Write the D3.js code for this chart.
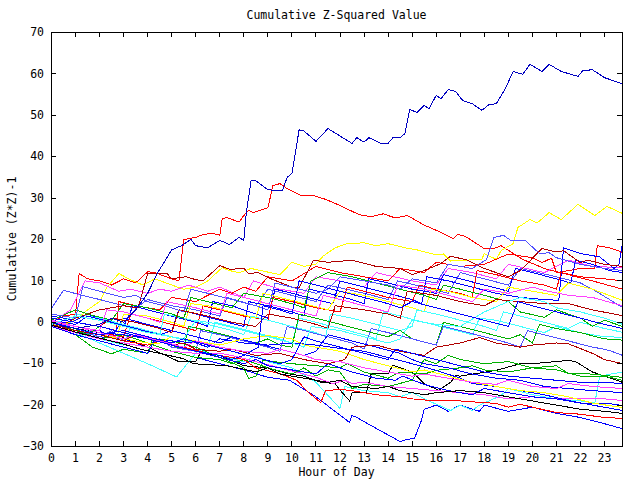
<!DOCTYPE html>
<html>
<head>
<meta charset="utf-8">
<script src="https://cdn.jsdelivr.net/npm/d3@7"></script>
<style>
  html, body { margin: 0; padding: 0; background: #fff; }
  svg { display: block; }
  text { font-family: "DejaVu Sans Mono", "Liberation Mono", monospace; font-size: 11.5px; fill: #000; }
</style>
</head>
<body>
<svg id="chart" width="640" height="480"></svg>
<script>
// ---------------- data (hour of day, cumulative (Z*Z)-1) ----------------
const chartTitle = "Cumulative Z-Squared Value";
const xTitle = "Hour of Day";
const yTitle = "Cumulative (Z*Z)-1";
const xTickValues = [0,1,2,3,4,5,6,7,8,9,10,11,12,13,14,15,16,17,18,19,20,21,22,23];
const yTickValues = [-30,-20,-10,0,10,20,30,40,50,60,70];

const s01 = [[0,0],[0.5,-1],[1,-1.5],[2,-0.5],[2.5,1],[3,0],[3.5,3],[4,7],[4.4,11.8],[5,17.5],[5.4,18.5],[5.8,20],[6,18.5],[6.5,18],[7,19.8],[7.4,18.8],[7.8,20.5],[8,19.8],[8.1,26.3],[8.3,34.2],[8.5,34.2],[9,32],[9.6,31.8],[9.8,35],[10,36],[10.3,46.5],[10.5,46.2],[11,43.7],[11.5,46.8],[12.5,43.2],[12.7,44.6],[13,43.5],[13.2,44.6],[13.7,43.2],[14,43.2],[14.2,44.6],[14.5,44.6],[14.7,45.6],[14.9,51.4],[15.2,50.7],[15.5,52.4],[15.7,51.6],[16,54.8],[16.2,54],[16.5,56.2],[16.8,55.8],[17.1,53.6],[17.5,52.8],[17.9,51.2],[18.2,52.6],[18.5,52.8],[18.9,56.7],[19.2,60.6],[19.6,59.9],[19.9,62.3],[20.4,60.6],[20.7,62.3],[21.2,60.6],[21.9,59.4],[22.1,60.8],[22.5,61],[23,59.1],[23.75,57.6]];
const s02 = [[0,0],[0.5,1.5],[1,2],[1.15,11.8],[1.5,10.5],[2,10],[2.5,9],[3,10.5],[3.5,9.5],[4,12.2],[4.3,12],[5,10.5],[5.3,10],[5.5,20],[6,20.5],[6.3,21.2],[6.7,21.5],[7,21],[7.1,25],[7.3,25.3],[7.8,24.2],[8,25.8],[8.2,27],[8.4,26.5],[9,27.7],[9.1,30.2],[9.2,33],[9.5,33.5],[9.8,32.3],[10.4,30.6],[10.9,30.6],[11.4,29.7],[12,28.2],[12.8,26],[13.3,25.5],[13.8,26.2],[14.3,25.2],[14.8,25.8],[15.5,23.5],[16.2,21.7],[16.7,20.2],[16.9,21.2],[17.2,20.8],[18,17.8],[18.4,17.8],[18.7,18.5],[19.6,15.2],[20.5,13],[21.5,11.5],[22.5,10],[23.75,8]];
const s03 = [[0,0],[0.5,-0.5],[1,0.5],[1.5,3],[2,5],[2.3,8.4],[2.8,11.8],[3.2,10.5],[3.8,9],[4.3,10.5],[5,9],[5.5,8],[6,8.5],[6.5,10],[7.1,13.2],[7.4,12.5],[7.8,12],[8.3,13],[8.7,12.5],[9.5,11.5],[10,14.5],[10.5,13.5],[11,14],[11.3,16],[11.8,18],[12.3,19],[13,19.2],[13.5,18.5],[14,19],[14.7,18],[15.2,17.5],[16,16.3],[16.3,16.5],[16.6,14.8],[17.2,15],[17.9,15.2],[18,16.6],[18.5,15.2],[18.7,17.3],[19.2,19],[19.4,22.9],[19.9,24.8],[20.2,24],[20.7,26.5],[21.2,24.8],[21.9,28.5],[22.6,25.8],[23.1,28],[23.75,26.3]];
const s04 = [[0,-0.5],[1,-2],[2,-3.5],[3,-4],[4,-6],[5,-7],[6,-8.5],[7,-10],[8,-11.5],[9,-13.3],[9.9,-14],[11,-18],[12.4,-24.2],[12.5,-22.5],[12.7,-23],[13,-24],[14.5,-28.8],[14.8,-28.3],[15.1,-28],[15.4,-23.5],[15.5,-21],[16,-20],[16.5,-21.5],[17,-20],[17.8,-21.5],[18,-20],[19,-21.5],[20,-20.5],[21,-22],[22,-23],[23,-24.5],[23.75,-25.7]];
const s05 = [[0,0],[1,-2.5],[2,-5],[3,-7.5],[4,-10],[5.2,-13.2],[6.1,-6.8],[7,-8],[8,-9.5],[8.5,-8],[9,-9.5],[10,-11],[11,-14.5],[12,-20.8],[12.2,-15.5],[13,-16.5],[14,-17],[14.5,-18],[15,-17],[15.7,-19],[16.6,-21.3],[17,-20],[17.5,-21.3],[17.8,-20],[18.7,-17.7],[19,-16],[20,-17.5],[21,-18.5],[22,-19],[22.6,-19.5],[22.8,-13],[23.75,-12]];
const s06 = [[0,0],[1,-1.5],[2,-2.5],[2.9,-3.5],[4,-6],[5.3,-9.5],[6,-9.5],[6.2,-7.3],[7,-8],[8,-10.5],[9,-11],[9.8,-12.4],[10.5,-13],[11.2,-14.5],[11.8,-14.8],[12,-16.4],[12.4,-19],[12.5,-17],[13.1,-17],[13.3,-12.4],[14,-12.4],[14.2,-10.4],[15,-12],[15.5,-14.8],[16.1,-16.4],[16.6,-14.5],[16.8,-12.9],[17,-13],[18.5,-11.6],[19.5,-10],[20,-10],[21.5,-9.2],[21.8,-9.5],[22.5,-12],[23,-13],[23.75,-14.5]];
const s07 = [[0,3.4],[0.5,7.7],[1.3,6.5],[2,5.5],[3,4],[3.5,3.4],[4,5.5],[5,4],[6,3],[7,1.5],[7.3,6],[8.5,4],[9,8],[10,6.5],[11,5],[11.5,9],[13,7],[14,5.5],[14.4,10],[15.5,8.5],[16.5,7],[17,12],[18,10.5],[19,9],[19.5,13],[21,11],[22,9.5],[22.5,8],[23.75,3.6]];
const s08 = [[0,0],[0.8,3],[1.4,10],[2,9.5],[2.8,7.5],[3.3,8],[4,7],[4.5,8],[5,7.5],[5.7,9],[6.5,7.5],[7,8.5],[8,6],[8.4,10],[9.5,8],[10.5,7],[11,11],[12,10],[13,8.5],[13.5,12],[15,10],[16,9],[16.5,13],[17.5,12],[18.5,10.5],[19,14],[20.5,12],[21.5,15],[22.5,13.5],[23.75,13.2]];
const s09 = [[0,1],[1,0],[2,-1],[2.7,-2],[2.8,5],[3.5,4],[4.5,3],[5,6],[6,5],[7,8],[7.5,7],[8,8.5],[8.5,7.5],[9,11],[10,10],[11,13.5],[12,12],[13,11],[14,10],[14.5,13],[15.5,12],[16,14.5],[17,13.5],[18,14],[19,16.5],[20,15.6],[20.4,14.4],[20.8,15.5],[21,12],[22,13],[22.6,13],[22.7,18.5],[23.2,18],[23.75,16.9]];
const s10 = [[0,1.5],[1,0.5],[1.5,2],[2,1],[3,-1],[3.4,4],[4,3],[5,1.5],[6,0],[6.5,-1],[6.7,5],[7.5,4],[8.5,2],[9,1],[9.3,8],[10,7],[11,5.5],[11.7,4.5],[12,10],[13,8.5],[14,7],[15,5.5],[15.4,4.5],[15.6,11],[16.5,10],[17.5,8.5],[18.5,7],[19.5,6],[20.5,5.5],[21.1,5.3],[21.3,18],[22,16.6],[22.8,15.8],[23.4,13],[23.6,14],[23.75,19]];
const s11 = [[0,-1],[1,-2.5],[2,-2],[2.5,-3.5],[3,1],[4,-0.5],[5,-2],[5.3,3],[6,2],[7,0.5],[8,-1],[8.2,5],[9,4],[10,2.5],[10.5,1.5],[10.7,8],[11.5,7],[12.5,5.5],[13,4.5],[13.2,10.5],[14,9.5],[15,8],[16,7],[16.3,11.5],[17,10.5],[18,9],[19,7.5],[19.3,13],[20,12],[21,10.5],[21.6,9.5],[21.8,15],[22.5,14],[23.2,12.5],[23.75,12]];
const s12 = [[0,0.5],[1,-1],[2,-2.5],[3,-3.5],[3.3,2],[4,1],[5,-0.5],[6,-2],[6.3,4],[7,3],[8,1.5],[9,0.5],[9.2,6],[10,5],[11,3.5],[12,2.5],[12.3,8.5],[13,7.5],[14,6],[15,5],[15.3,9],[16,8],[17,7],[17.5,6],[17.7,12.5],[18.5,11.5],[19.5,10],[20.5,9],[21,8],[21.2,12],[22,11],[23,10.5],[23.75,10]];
const s13 = [[0,-1],[1,-2],[2,-3],[2.7,-4],[3,2],[4,1.5],[5,0],[5.5,-1],[5.8,4.5],[6.5,4],[7.5,2.5],[8.5,1],[8.8,7],[9.5,6],[10.5,4.5],[11.5,3],[12,7.5],[13,6.5],[14,5],[15,3.5],[15.5,2.5],[15.8,8],[16.5,7.5],[17.5,6],[18.5,5],[19,8.5],[20,7.5],[21,6.5],[21.5,9.5],[22.5,8],[23.2,6.5],[23.75,5.3]];
const s14 = [[0,0.5],[0.7,-1],[1,2],[2,1],[3,-0.5],[4,-2],[4.5,-3],[4.7,2],[5.5,1],[6.5,-0.5],[7.5,-2],[8,-3],[8.3,1.5],[9,0.5],[10,-1],[11,-2.5],[11.4,-3.5],[11.6,2],[12.5,1],[13.5,-0.5],[14.5,-2],[15,-1],[15.2,3],[16,2],[17,0.5],[18,-1],[18.5,-2],[18.8,2.5],[19.5,1.5],[20.5,0],[21.5,-1.5],[22,0],[23,-1.5],[23.75,-2.4]];
const s15 = [[0,-1],[1,-3],[1.5,-2],[2,-4],[3,-5.5],[3.3,-1],[4,-2],[5,-3.5],[6,-5],[6.5,-6],[6.8,0],[7.5,-1],[8.5,-2.5],[9.5,-4],[10,-5],[10.3,1],[11,0],[12,-1.5],[13,-3],[13.5,-4],[13.8,2.5],[14.5,1.5],[15.5,0],[16.5,-1.5],[17.5,-3],[17.8,1],[18.5,0.5],[19.5,-1],[20.5,-2.5],[21,-1],[22,-2.5],[23,-3.5],[23.75,-3.6]];
const s16 = [[0,0],[1,-1.5],[1.5,-3],[2,-1],[3,-2.5],[4,-4],[5,-5.5],[5.5,-6.5],[5.7,-1],[6.5,-2],[7.5,-3.5],[8.5,-5],[9,-4],[9.5,-5.5],[10,-6],[10.3,2],[11,1],[12,-0.5],[13,-2],[14,-3.5],[14.5,-2],[15,-4],[16,-5.5],[16.3,0],[17,-1],[18,-2.5],[19,-4],[19.5,-3],[20,-5],[20.3,-0.5],[21,-1.5],[22,-2.5],[23,-4],[23.75,-4.3]];
const s17 = [[0,0.5],[1,3],[1.5,2],[2.5,0.5],[3,4.5],[4,3.5],[5,2],[5.5,1],[5.8,6],[6.5,5],[7.5,3.5],[8,7],[9,6],[10,4.5],[10.5,3.5],[10.8,10],[11.5,12],[12.5,11],[13.5,9.5],[14.5,8],[15.5,6.5],[16,5.5],[16.3,9],[17,8],[18,6.5],[19,5],[19.5,2.5],[20.5,1.2],[21,3],[22,1],[22.5,-1],[23,0.5],[23.75,-1]];
const s18 = [[0,-0.5],[1,-2],[2,-3.5],[2.5,-2],[3,-4.5],[4,-5.5],[4.5,-4],[5,-6],[6,-7],[6.2,-2],[7,-3],[8,-4.5],[9,-6],[9.5,-7],[9.8,-1],[10.5,-2],[11.5,-3.5],[12.5,-5],[13,-6.5],[13.3,-1.5],[14,-2.5],[15,-4],[16,-5.5],[16.3,-1],[17,-2],[18,-3.5],[19,-5],[19.5,-6],[19.8,-2],[20.5,-3],[21.5,-4.5],[22.5,-6],[23,-6.5],[23.3,-7],[23.75,-8]];
const s19 = [[0,-1],[1,-3],[1.7,-6],[2.5,-7.6],[3,-6.5],[4,-7.5],[4.2,-3.9],[5,-4.5],[6,-6],[7,-8.5],[8,-11],[8.2,-13.6],[8.5,-13],[8.8,-9.2],[10,-10],[11,-10.5],[12,-11],[12.3,-10],[13,-12],[14,-13.5],[14.5,-12],[15.5,-12.5],[16,-11.6],[17,-11],[17.5,-10.5],[18,-11.5],[19,-12],[20,-11],[21,-10.5],[21.5,-12.4],[22.5,-12.5],[23.75,-13.3]];
const s20 = [[0,0],[1,-2],[2,-4],[3,-3],[4,-5],[5,-7],[6,-8.5],[7,-9],[7.5,-10],[8,-9],[9,-11],[10,-12.5],[10.5,-11],[11,-13],[11.5,-11.5],[12,-12],[12.5,-16],[13,-15],[14,-15.5],[15,-14],[15.5,-9],[16,-10],[16.5,-8],[17,-9],[18,-10],[19,-9.5],[20,-11],[21,-11.5],[22,-13],[23,-13],[23.75,-14]];
const s21 = [[0,-1],[1,-2.5],[2,-4],[3,-5],[4,-6],[5,-7],[6,-7.5],[7,-7.5],[7.5,-8],[8.5,-9.5],[9.5,-11],[10.5,-12.5],[11,-13.3],[11.7,-14.8],[12.2,-14],[12.5,-14.8],[13,-14.5],[14,-15.5],[15,-16],[16,-16.5],[17,-17],[18,-17.5],[19,-18.5],[20,-18],[21,-18.5],[22,-18.5],[23,-18.5],[23.75,-18.9]];
const s22 = [[0,0],[1,-1],[2,-2.5],[3,-3],[4,-4],[5,-4.5],[6,-5],[6.5,-6],[7,-4],[8,-5],[9,-5.5],[10,-5],[11,-5.5],[12,-6.3],[13,-7],[14,-8.5],[15,-10],[16,-11.6],[17,-13.5],[17.5,-14.8],[18.5,-15.5],[19.5,-16.5],[20.5,-17.5],[21.5,-18.9],[22.5,-20],[23.75,-21.3]];
const s23 = [[0,0.5],[1,-0.5],[1.5,1.5],[2.5,0],[3.5,-1.5],[4.5,-3],[5,-2],[6,-3.5],[7,-5],[7.5,-3.5],[8.5,-5],[9.5,-6.5],[10.5,-8],[11,-7],[11.5,-3],[12.5,-4.5],[13.5,-6],[14.5,-7.5],[15,-9],[15.5,-10],[16.5,-11],[17.5,-12.5],[18.5,-13.5],[19.5,-14],[20.5,-15.5],[21.5,-16],[22.5,-16.5],[23.75,-17]];
const s24 = [[0,-1],[1,-3],[2,-4.5],[3,-6],[4,-7.5],[4.3,-4],[5,-5.5],[6,-7],[7,-8.5],[8,-10],[8.5,-9],[9,-10.5],[10,-11.5],[11,-12.5],[11.5,-10],[12.5,-12],[13.5,-13.5],[14.3,-14],[14.6,-13],[15.5,-15],[16.5,-16.5],[17.5,-17.5],[18,-16],[19,-17],[20,-18],[21,-18.5],[22,-19.5],[23,-19.5],[23.75,-20.1]];
const s25 = [[0,0],[1,-1.5],[2,-3],[3,-4.5],[4,-5.5],[4.5,-4.5],[5.5,-6],[6.5,-7.5],[7.5,-8.5],[8,-9],[8.5,-11],[9.5,-12.4],[10.2,-14],[10.7,-17],[11.2,-19.4],[11.4,-16.5],[12,-16.2],[12.5,-16.5],[13.5,-17.5],[14.5,-18],[15,-18.5],[16,-19],[17,-19],[18.5,-19.6],[19,-20.5],[19.5,-19.8],[20,-20.5],[21,-21.8],[22,-22.2],[23,-23],[23.75,-23.2]];
const s26 = [[0,-0.5],[1,-1.5],[2,-3],[3,-4],[4,-5],[4.5,-5],[5,-3.5],[6,-4.5],[7,-5.5],[8,-4],[9,-3.2],[10,-4],[10.5,-5.5],[11,-6],[12,-7],[13,-9],[14,-10.5],[15,-12],[15.5,-11.5],[16.5,-13],[17.5,-14.5],[18.5,-15.5],[19.5,-16.5],[20.5,-17],[21.5,-18],[22.5,-19.5],[23.75,-20.6]];
const s27 = [[0,0.5],[0.5,-0.5],[1,1],[2,3],[3,4],[3.6,3.5],[4,11.8],[4.8,11.8],[5,10.5],[5.6,11],[6,10.3],[6.3,10],[7,13.7],[7.4,12.8],[8,13],[8.2,11.8],[8.6,12],[9,10.8],[10,8.5],[10.3,8.4],[10.9,15],[11.5,14.5],[12.5,15],[13.5,13.5],[14.5,13],[15,11.5],[15.5,12.5],[16.2,14.2],[16.6,16],[17.3,15],[18,13],[19,11],[19.5,12.5],[20.4,17.8],[21,17],[21.3,17.3],[22,14.4],[22.3,15],[23,14],[23.75,13.5]];
const s28 = [[0,-0.5],[1,-2],[2,-3],[3,-4.5],[3.5,-3],[4.5,-4.5],[5,-5.5],[5.5,-5],[6,-6.5],[7,-7],[7.5,-6.5],[8.5,-8],[9.5,-7.5],[10.5,-9],[11.5,-10],[12.2,-9],[12.5,-6],[13.5,-5.5],[14.5,-7],[15.5,-8],[16,-6],[17,-5],[17.8,-3.7],[18.5,-5],[19.5,-6],[20,-5.5],[21,-5],[21.5,-5.2],[22.5,-7.5],[23,-9],[23.75,-10]];
const s29 = [[0,1],[1,0],[2,-1],[2.5,1],[3.5,0],[4.5,-1.5],[5,-2.5],[5.3,3],[6.5,1.5],[7.5,0],[8.5,-1],[9,2],[10,1],[11,-0.5],[11.5,-1.5],[11.8,4],[13,3],[14,2],[14.5,1],[14.8,7.5],[16,6.5],[17,5],[18,4],[18.5,5.5],[19.5,5],[20.5,4.5],[21.5,4.5],[22.5,3],[23.75,1.6]];
const s30 = [[0,-0.7],[1.2,-2.7],[2.9,-5.1],[3.7,-6.5],[4.5,-7.5],[5.5,-8.8],[5.9,-10],[7.3,-10.5],[7.9,-11.2],[8.5,-12],[9,-11],[9.5,-12.5],[10.5,-13.5],[11.5,-14.5],[12,-14],[12.5,-15.5],[13.5,-16],[14,-15.5],[14.5,-16.5],[15.5,-17.5],[16,-17],[17,-16.5],[18,-17],[19,-18],[20,-19],[21,-20],[22,-21],[23,-21.5],[23.75,-22]];
const s31 = [[0,2],[1,1],[1.3,8.6],[2,7.5],[3,6],[3.5,6.5],[4,5],[5,3.5],[5.5,2.5],[5.8,8],[6.5,7],[7.5,5.5],[8.5,4],[9,3],[9.3,9.5],[10,8.5],[11,7],[11.5,8],[12,11],[13,10],[14,9],[14.5,8],[15,10.5],[16,9.5],[16.5,14],[17.5,13],[18.1,15.2],[18.4,20.5],[18.8,21],[19.1,19.8],[19.7,19.8],[20.3,16.6],[20.7,16.8],[21,15.6],[22,14],[23,13],[23.75,12.5]];
const s32 = [[0,0],[1,-1],[2,-2],[2.3,3],[3,2.5],[4,1],[4.5,0],[4.8,5],[6,3.5],[7,2],[7.3,7],[8,6],[9,4.5],[10,3],[11,1.5],[11.3,6.5],[12,5.5],[13,4],[14,2.5],[14.4,9],[15.5,8],[16.5,6.5],[17.5,5],[18,8],[19,7],[20,8.5],[20.5,7.7],[21.5,6.5],[22.5,6],[23.75,4]];
const s33 = [[0,0.5],[1,-1],[2,-2.5],[3,-4],[3.5,-3],[4.5,-4.5],[5.5,-6],[6,-4.5],[7,-6],[8,-7],[9,-7.5],[9.5,-6.5],[10.5,-8],[11,-9],[12,-9.5],[13,-11],[14,-12],[15,-13],[15.5,-12.5],[16.5,-13.5],[17.5,-14.5],[18.5,-15],[19,-14],[20,-15.5],[21,-16],[21.5,-14.8],[22.5,-15.5],[23.75,-16]];
const s34 = [[0,-0.5],[1,1.5],[2,0.5],[3,-1],[4,-2.5],[5,-3.5],[5.5,-4],[6,0.5],[7,-0.5],[8,-2],[9,-3.5],[10,-5],[10.5,-6],[10.8,-1],[12,-2],[13,-3.5],[14,-5],[14.5,-4],[15,0.5],[16,-0.5],[17,-1],[18,2.5],[19,5],[19.5,6],[20.5,5],[21,3.5],[22,2.5],[23,1],[23.75,-0.5]];
const s35 = [[0,0],[1,-1.5],[2,-3],[3,-2],[4,-3.5],[5,-5],[5.5,-4],[6.5,-5.5],[7.5,-7],[8.5,-8.5],[9.5,-10],[10,-9],[10.5,-3.5],[11,-4.5],[12,-6],[13,-7.5],[14,-9],[14.3,-6.5],[15,-7.5],[16,-9],[17,-10.5],[18,-12],[19,-13],[20,-13.5],[21,-14],[22,-14.5],[23,-14.5],[23.75,-14.8]];
const s36 = [[0,1],[1,0],[2,-1],[3,-2.5],[4,-4],[5,-5.5],[6,-7],[7,-8],[7.5,-9],[8,-8],[8.6,-6],[8.8,4],[9.5,3],[10,2],[10.3,10],[11,9],[12,7.5],[13,6],[14,4.5],[14.5,3.5],[15,5],[16,3.5],[17,2],[18,0.5],[19,-1],[19.4,5],[20,4],[21,2.5],[22,1],[23,-0.5],[23.75,-1.5]];

const seriesList = [s02,s03,s04,s05,s06,s07,s08,s09,s10,s11,s12,s13,s14,s15,s16,s17,s18,s19,s20,s21,s22,s23,s24,s25,s26,s27,s28,s29,s30,s31,s32,s33,s34,s35,s36,s01];

// ---------------- styles ----------------
const C = {red:"#ff0000", green:"#00b000", blue:"#0000ff", magenta:"#ff40ff", cyan:"#40ffff",
           darkred:"#b00000", yellow:"#ffff00", black:"#000000", lightblue:"#5050ff", navy:"#0000c0"};
const seriesColors = [C.red,C.yellow,C.blue,C.cyan,C.black,C.lightblue,C.magenta,C.red,C.blue,C.blue,
  C.red,C.yellow,C.cyan,C.cyan,C.green,C.green,C.lightblue,C.green,C.green,C.magenta,
  C.blue,C.blue,C.blue,C.red,C.yellow,C.darkred,C.darkred,C.darkred,C.black,C.lightblue,
  C.magenta,C.magenta,C.cyan,C.blue,C.blue,C.navy];

const L = 51, R = 622, T = 32, B = 446;
const svg = d3.select("#chart");
const x = d3.scaleLinear().domain([0, 23.75]).range([L, R]);
const y = d3.scaleLinear().domain([-30, 70]).range([B, T]);

svg.append("defs").append("clipPath").attr("id","plotclip")
  .append("rect").attr("x", L).attr("y", T).attr("width", R - L + 1).attr("height", B - T + 1);

const line = d3.line().x(d => x(d[0]) + 0.5).y(d => y(d[1]) + 0.5);
const g = svg.append("g").attr("clip-path", "url(#plotclip)");
seriesList.forEach((s, i) => {
  g.append("path").attr("d", line(s)).attr("fill","none")
   .attr("stroke", seriesColors[i]).attr("stroke-width", 1)
   .attr("shape-rendering","crispEdges");
});

// axes with inward ticks
const tick = 5;
const ax = svg.append("g").attr("transform", `translate(0,${B})`)
  .call(d3.axisBottom(x).tickValues(xTickValues).tickFormat(d3.format("d")).tickSizeInner(-tick).tickSizeOuter(0).tickPadding(8));
const axT = svg.append("g").attr("transform", `translate(0,${T})`)
  .call(d3.axisTop(x).tickValues(xTickValues).tickFormat("").tickSizeInner(-tick).tickSizeOuter(0));
const ay = svg.append("g").attr("transform", `translate(${L},0)`)
  .call(d3.axisLeft(y).tickValues(yTickValues).tickFormat(d3.format("d")).tickSizeInner(-tick).tickSizeOuter(0).tickPadding(7));
const ayR = svg.append("g").attr("transform", `translate(${R},0)`)
  .call(d3.axisRight(y).tickValues(yTickValues).tickFormat("").tickSizeInner(-tick).tickSizeOuter(0));
[ax, axT, ay, ayR].forEach(a => {
  a.select(".domain").remove();
  a.selectAll("line").attr("stroke", "#000").attr("shape-rendering","crispEdges");
  a.selectAll("text").attr("font-family", null).attr("font-size", null).style("fill","#000");
});

svg.append("rect").attr("x", L + 0.5).attr("y", T + 0.5).attr("width", R - L).attr("height", B - T)
  .attr("fill","none").attr("stroke","#000").attr("stroke-width",1).attr("shape-rendering","crispEdges");

svg.append("text").attr("x", (L + R) / 2).attr("y", 19).attr("text-anchor","middle").text(chartTitle);
svg.append("text").attr("x", (L + R) / 2).attr("y", 476).attr("text-anchor","middle").text(xTitle);
svg.append("text").attr("transform", `translate(16,${(T + B) / 2}) rotate(-90)`).attr("text-anchor","middle").text(yTitle);
</script>
</body>
</html>
